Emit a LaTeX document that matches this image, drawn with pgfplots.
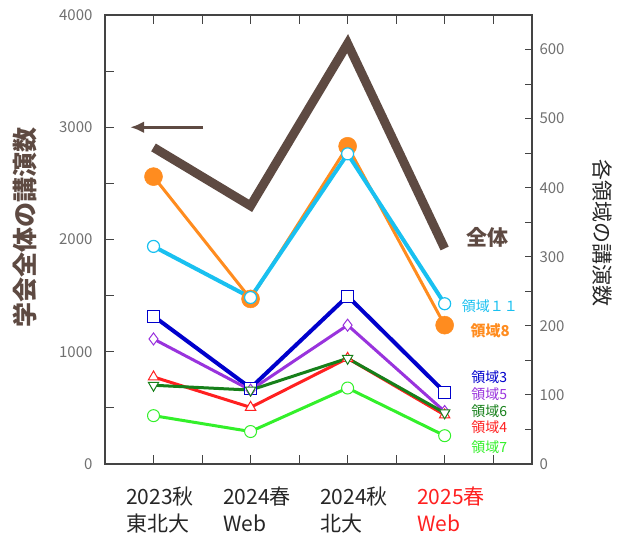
\documentclass[border=0pt]{standalone}
\usepackage{pgfplots}
\pgfplotsset{compat=1.18}
\usetikzlibrary{arrows.meta}
\usepackage{fontspec}
\setmainfont{Noto Sans CJK JP}
\definecolor{cBrown}{HTML}{5E4A42}
\definecolor{cOrange}{HTML}{FF8C1F}
\definecolor{cCyan}{HTML}{19C0F0}
\definecolor{cBlue}{HTML}{0000CC}
\definecolor{cPurple}{HTML}{9933DD}
\definecolor{cRed}{HTML}{FF2020}
\definecolor{cDkGreen}{HTML}{16801A}
\definecolor{cLime}{HTML}{33F02A}
\definecolor{cAxis}{HTML}{444444}
\definecolor{cTick}{HTML}{707070}
\begin{document}
\begin{tikzpicture}
\path[use as bounding box] (-105pt,-75pt) rectangle (517pt,464pt);
\pgfplotsset{
  common/.style={
    at={(0,0)}, anchor=south west, scale only axis,
    width=427pt, height=449pt,
    xmin=0.5, xmax=4.9,
    tick align=inside,
    axis line style={line width=1.2pt, cAxis},
    every tick/.style={cAxis, line width=1pt},
    /pgf/number format/assume math mode=true,
    /pgf/number format/1000 sep={},
    yticklabel style={font=\fontsize{15}{15}\selectfont, text=cTick},
  }
}
\begin{axis}[common,
  ymin=0, ymax=4000,
  xtick={1,2,3,4}, minor xtick={1.5,2.5,3.5,4.5},
  xtick pos=both, xticklabel pos=bottom,
  xticklabels={{2023秋\\東北大},{2024春\\Web},{2024秋\\北大},{\textcolor{cRed}{2025春}\\\textcolor{cRed}{Web}}},
  xticklabel style={align=left, anchor=north west, font=\fontsize{21}{27}\selectfont, text=black!85, yshift=-19pt, xshift=-31pt},
  ytick={0,1000,2000,3000,4000}, minor ytick={500,1500,2500,3500},
  ytick pos=left,
  major tick length=9pt, minor tick length=9pt,
  yticklabel style={xshift=-9pt},
  ylabel={学会全体の講演数},
  every axis y label/.style={at={(rel axis cs:-0.187,0.526)}, anchor=center, rotate=90, font=\fontsize{25}{25}\selectfont\bfseries, text=cBrown},
]
\addplot[cBrown, line width=9pt, line join=miter, no markers] coordinates {(1,2820) (2,2300) (3,3745) (4,1920)};
\draw[cBrown, line width=3pt, -{Latex[length=14pt,width=12pt]}] (axis cs:1.51,3000) -- (axis cs:0.76,3000);
\node[anchor=west, text=cBrown, font=\fontsize{21}{21}\selectfont\bfseries] at (axis cs:4.19,2022) {全体};
\end{axis}
\begin{axis}[common,
  ymin=0, ymax=650,
  hide x axis,
  ytick={0,100,...,600}, minor ytick={50,150,...,650},
  ytick pos=right, yticklabel pos=right,
  major tick length=7pt, minor tick length=7pt,
  yticklabel style={anchor=west, xshift=4pt},
  ylabel={各領域の講演数},
  every axis y label/.style={at={(rel axis cs:1.166,0.514)}, anchor=center, rotate=-90, font=\fontsize{21}{21}\selectfont, text=black!85},
]
\addplot[cOrange, line width=3pt, mark=*, mark size=9pt, mark options={fill=cOrange, draw=cOrange, line width=0.5pt}] coordinates {(1,416) (2,239) (3,460) (4,201)};
\addplot[cCyan, line width=4pt, mark=*, mark size=6pt, mark options={fill=white, draw=cCyan, line width=1.2pt}] coordinates {(1,315) (2,241) (3,449) (4,232)};
\addplot[cBlue, line width=4pt, mark=square*, mark size=6pt, mark options={fill=white, draw=cBlue, line width=1pt}] coordinates {(1,214) (2,110) (3,243) (4,104)};
\addplot[cPurple, line width=3pt, mark=diamond*, mark size=6pt, mark options={fill=white, draw=cPurple, line width=1pt}] coordinates {(1,181) (2,107) (3,201) (4,76)};
\addplot[cRed, line width=3pt, mark=triangle*, mark size=6pt, mark options={fill=white, draw=cRed, line width=1pt}] coordinates {(1,126) (2,82) (3,153) (4,71)};
\addplot[cDkGreen, line width=3pt, mark=triangle*, mark size=6pt, mark options={fill=white, draw=cDkGreen, line width=1pt, rotate=180}] coordinates {(1,114) (2,107) (3,153) (4,74)};
\addplot[cLime, line width=3pt, mark=*, mark size=6pt, mark options={fill=white, draw=cLime, line width=1pt}] coordinates {(1,70) (2,47) (3,110) (4,41)};
\node[anchor=west, text=cCyan, font=\fontsize{14}{14}\selectfont] at (axis cs:4.14,229) {領域１１};
\node[anchor=west, text=cOrange, font=\fontsize{15}{15}\selectfont\bfseries] at (axis cs:4.23,193) {領域8};
\node[anchor=west, text=cBlue, font=\fontsize{14}{14}\selectfont] at (axis cs:4.24,126) {領域3};
\node[anchor=west, text=cPurple, font=\fontsize{14}{14}\selectfont] at (axis cs:4.24,101) {領域5};
\node[anchor=west, text=cDkGreen, font=\fontsize{14}{14}\selectfont] at (axis cs:4.24,76) {領域6};
\node[anchor=west, text=cRed, font=\fontsize{14}{14}\selectfont] at (axis cs:4.24,53) {領域4};
\node[anchor=west, text=cLime, font=\fontsize{14}{14}\selectfont] at (axis cs:4.24,25) {領域7};
\end{axis}
\end{tikzpicture}
\end{document}
